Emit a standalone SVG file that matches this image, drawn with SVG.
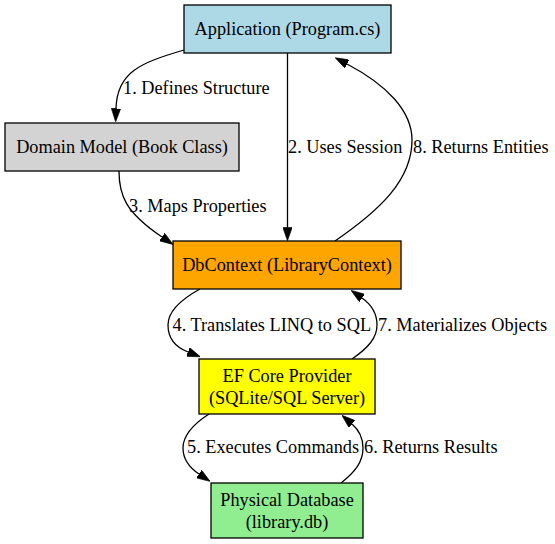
<svg xmlns="http://www.w3.org/2000/svg" width="555" height="544" viewBox="0 0 555 544">
<style>
  text { font-family: "Liberation Serif", "Times New Roman", serif; font-size: 18.3px; fill: #000; }
  .node rect { stroke: #000; stroke-width: 1.3; }
  .node text { text-anchor: middle; }
  .edge path { fill: none; stroke: #000; stroke-width: 1.3; }
  .lbl { text-anchor: start; }
</style>
<defs>
  <marker id="arr" viewBox="0 0 10 7" refX="0" refY="3.5" markerWidth="13.3" markerHeight="9.3" markerUnits="userSpaceOnUse" orient="auto">
    <polygon points="0,0 10,3.5 0,7" fill="#000" stroke="#000" stroke-width="0.5"/>
  </marker>
</defs>
<rect width="555" height="544" fill="#fff"/>

<g id="connectors" class="edge">
  <path id="e1" d="M184,50 C140,63 117,72 116,108.5" marker-end="url(#arr)"/>
  <path id="e2" d="M287.5,53 L287.5,227.5" marker-end="url(#arr)"/>
  <path id="e3" d="M119,171 C119,195 125,212 162,237" marker-end="url(#arr)"/>
  <path id="e8" d="M335,241 C380,210 412,180 412,140 C412,110 385,84 347,64" marker-end="url(#arr)"/>
  <path id="e4" d="M200,289 C180,300 168,312 168,325 C168,338 175,347 188,352" marker-end="url(#arr)"/>
  <path id="e7" d="M352,359 C368,348 377,338 377,325 C377,313 372,305 362,298" marker-end="url(#arr)"/>
  <path id="e5" d="M209,414 C192,425 183,436 183,448 C183,460 190,468 199,474" marker-end="url(#arr)"/>
  <path id="e6" d="M341,483 C355,472 363,462 363,448 C363,437 359,430 352,424" marker-end="url(#arr)"/>
  <text class="lbl" x="123" y="94">1. Defines Structure</text>
  <text class="lbl" x="288" y="153">2. Uses Session</text>
  <text class="lbl" x="413" y="153">8. Returns Entities</text>
  <text class="lbl" x="129" y="212">3. Maps Properties</text>
  <text class="lbl" x="172.5" y="331">4. Translates LINQ to SQL</text>
  <text class="lbl" x="378" y="331">7. Materializes Objects</text>
  <text class="lbl" x="187" y="453">5. Executes Commands</text>
  <text class="lbl" x="364" y="453">6. Returns Results</text>
</g>

<g id="app" class="node">
  <rect x="184" y="5" width="207" height="48" fill="#add8e6"/>
  <text x="287.5" y="35">Application (Program.cs)</text>
</g>
<g id="domain" class="node">
  <rect x="5" y="123" width="234" height="48" fill="#d3d3d3"/>
  <text x="122" y="153">Domain Model (Book Class)</text>
</g>
<g id="dbcontext" class="node">
  <rect x="173" y="241" width="228" height="48" fill="#ffa500"/>
  <text x="287" y="271">DbContext (LibraryContext)</text>
</g>
<g id="provider" class="node">
  <rect x="199" y="359" width="176" height="55" fill="#ffff00"/>
  <text x="287" y="381.5">EF Core Provider</text>
  <text x="287" y="403.5">(SQLite/SQL Server)</text>
</g>
<g id="database" class="node">
  <rect x="211" y="483" width="152" height="55" fill="#90ee90"/>
  <text x="287" y="506">Physical Database</text>
  <text x="287" y="528">(library.db)</text>
</g>
</svg>
